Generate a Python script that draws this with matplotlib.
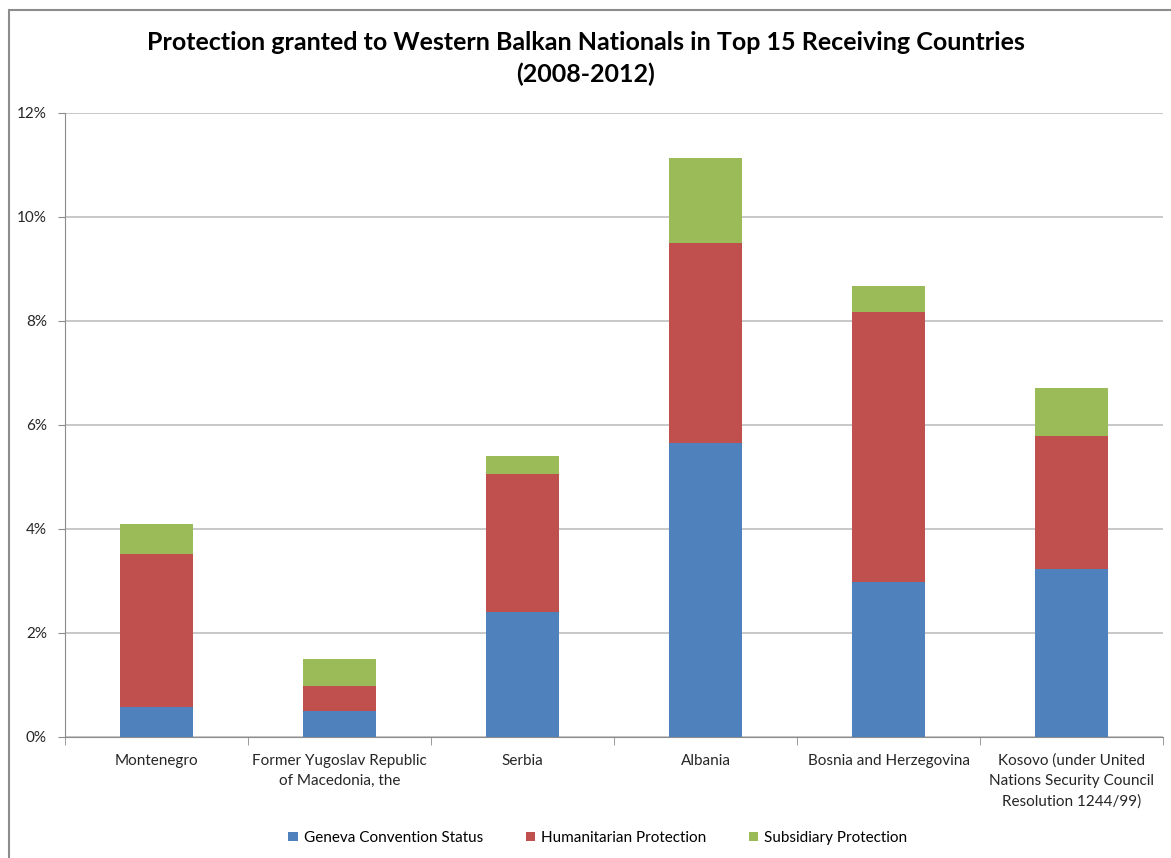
import matplotlib
matplotlib.use("Agg")
import matplotlib.pyplot as plt
from matplotlib.patches import Rectangle
from matplotlib.ticker import FuncFormatter, MultipleLocator
import numpy as np

categories = [
    "Montenegro",
    "Former Yugoslav Republic\nof Macedonia, the",
    "Serbia",
    "Albania",
    "Bosnia and Herzegovina",
    "Kosovo (under United\nNations Security Council\nResolution 1244/99)",
]
geneva = [0.58, 0.50, 2.40, 5.65, 2.99, 3.23]
humanitarian = [2.94, 0.48, 2.66, 3.85, 5.18, 2.56]
subsidiary = [0.58, 0.52, 0.34, 1.64, 0.51, 0.92]
series_names = ["Geneva Convention Status", "Humanitarian Protection", "Subsidiary Protection"]
colors = ["#4F81BD", "#C0504D", "#9BBB59"]

plt.rcParams["font.family"] = ["Lato", "DejaVu Sans"]

W, H = 1171, 858
fig = plt.figure(figsize=(W / 100, H / 100), dpi=100)
fig.patch.set_facecolor("white")

# outer chart frame
fig.patches.append(Rectangle((9 / W, -0.05), 1.2, 1 - 10 / H + 0.05,
                             transform=fig.transFigure, fill=False,
                             edgecolor="#8c8c8c", linewidth=1.5))

ax = fig.add_axes([65 / W, 1 - 737 / H, (1163 - 65) / W, (737 - 113) / H])
x = np.arange(len(categories))
bottom = np.zeros(len(categories))
for vals, name, c in zip([geneva, humanitarian, subsidiary], series_names, colors):
    ax.bar(x, vals, width=0.4, bottom=bottom, color=c, label=name, zorder=3)
    bottom += np.array(vals)

ax.set_xlim(-0.5, len(categories) - 0.5)
ax.set_ylim(0, 12)
ax.yaxis.set_major_locator(MultipleLocator(2))
ax.yaxis.set_major_formatter(FuncFormatter(lambda v, p: f"{v:.0f}%"))
ax.grid(axis="y", color="#bfbfbf", linewidth=1.2, zorder=0)

for s in ["top", "right"]:
    ax.spines[s].set_visible(False)
ax.spines["left"].set_color("#8c8c8c")
ax.spines["bottom"].set_color("#8c8c8c")
ax.spines["left"].set_zorder(4)
ax.spines["bottom"].set_zorder(4)

ax.set_xticks(x)
ax.set_xticklabels(categories, fontsize=11, color="#262626", linespacing=1.55)
ax.tick_params(axis="x", length=0, pad=12)
ax.set_xticks(np.arange(len(categories) + 1) - 0.5, minor=True)
ax.tick_params(axis="x", which="minor", length=6, color="#8c8c8c", direction="out")
ax.tick_params(axis="y", length=5, color="#8c8c8c", labelsize=11, labelcolor="#262626", pad=8)

fig.text(0.5, 1 - 42 / H, "Protection granted to Western Balkan Nationals in Top 15 Receiving Countries",
         ha="center", va="center", fontsize=18, fontweight="bold", color="black")
fig.text(0.5, 1 - 74 / H, "(2008-2012)",
         ha="center", va="center", fontsize=18, fontweight="bold", color="black")

fig.legend(loc="center", bbox_to_anchor=(598 / W, 1 - 838 / H), ncol=3, frameon=False,
           fontsize=11, handlelength=0.6, handleheight=0.6, handletextpad=0.4,
           columnspacing=2.8)

fig.savefig("out.png", dpi=100, facecolor="white")
